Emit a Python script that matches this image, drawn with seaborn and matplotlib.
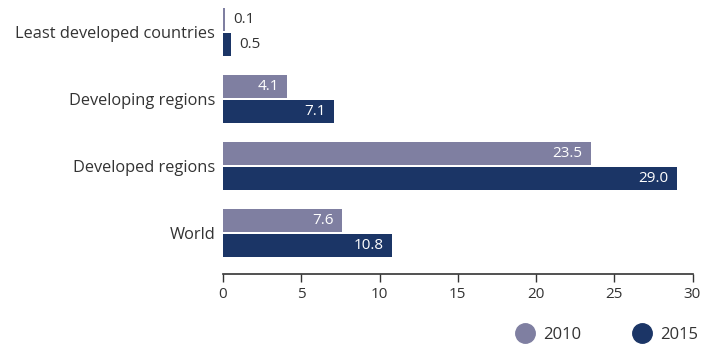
import pandas as pd
import numpy as np
import matplotlib.pyplot as plt
import seaborn as sns
from matplotlib.lines import Line2D

categories = ["Least developed countries", "Developing regions", "Developed regions", "World"]
years = ["2010", "2015"]
values_2010 = [0.1, 4.1, 23.5, 7.6]
values_2015 = [0.5, 7.1, 29.0, 10.8]
xticks = [0, 5, 10, 15, 20, 25, 30]

colors = {"2010": "#7f7fa1", "2015": "#1b3566"}
text_col = "#333333"

df = pd.DataFrame({
    "region": categories * 2,
    "year": ["2010"] * 4 + ["2015"] * 4,
    "value": values_2010 + values_2015,
})

sns.set_style("white")
plt.rcParams["font.family"] = ["Open Sans", "DejaVu Sans"]

fig = plt.figure(figsize=(7.08, 3.44), dpi=100)
ax = fig.add_axes([223 / 708, 1 - 274 / 344, 469.5 / 708, 274 / 344])

sns.barplot(data=df, y="region", x="value", hue="year", orient="h",
            palette=colors, width=0.75, gap=0.08, ax=ax, legend=False,
            saturation=1, order=categories, hue_order=years, linewidth=0)

# value labels: inside (white) for long bars, outside (dark) for tiny ones
for cont, yr in zip(ax.containers, years):
    vals = values_2010 if yr == "2010" else values_2015
    for bar, v in zip(cont, vals):
        yc = bar.get_y() + bar.get_height() / 2
        if v < 2:
            ax.annotate(f"{v:.1f}", (v, yc), xytext=(6, 0), textcoords="offset points",
                        ha="left", va="center", color=text_col, fontsize=11)
        else:
            ax.annotate(f"{v:.1f}", (v, yc), xytext=(-6, 0), textcoords="offset points",
                        ha="right", va="center", color="white", fontsize=11)

ax.set_xlim(0, 30)
ax.set_ylim(3.612, -0.478)
ax.set_xticks(xticks)
ax.set_xlabel("")
ax.set_ylabel("")
for s in ["top", "right", "left"]:
    ax.spines[s].set_visible(False)
ax.spines["bottom"].set_color(text_col)
ax.spines["bottom"].set_linewidth(1.2)
ax.tick_params(axis="x", bottom=True, length=6, width=1, color=text_col,
               labelsize=11, labelcolor=text_col, pad=3)
ax.tick_params(axis="y", left=False, length=0, labelsize=11.8, labelcolor=text_col, pad=5.5)

handles = [Line2D([], [], marker="o", linestyle="", markersize=14,
                  markerfacecolor=colors[y], markeredgecolor=colors[y], label=y) for y in years]
fig.legend(handles=handles, loc="lower right", bbox_to_anchor=(1.007, -0.04), ncol=2,
           frameon=False, fontsize=12, handletextpad=0.1, columnspacing=2.6,
           labelcolor=text_col)

plt.savefig("out.png", dpi=100)
